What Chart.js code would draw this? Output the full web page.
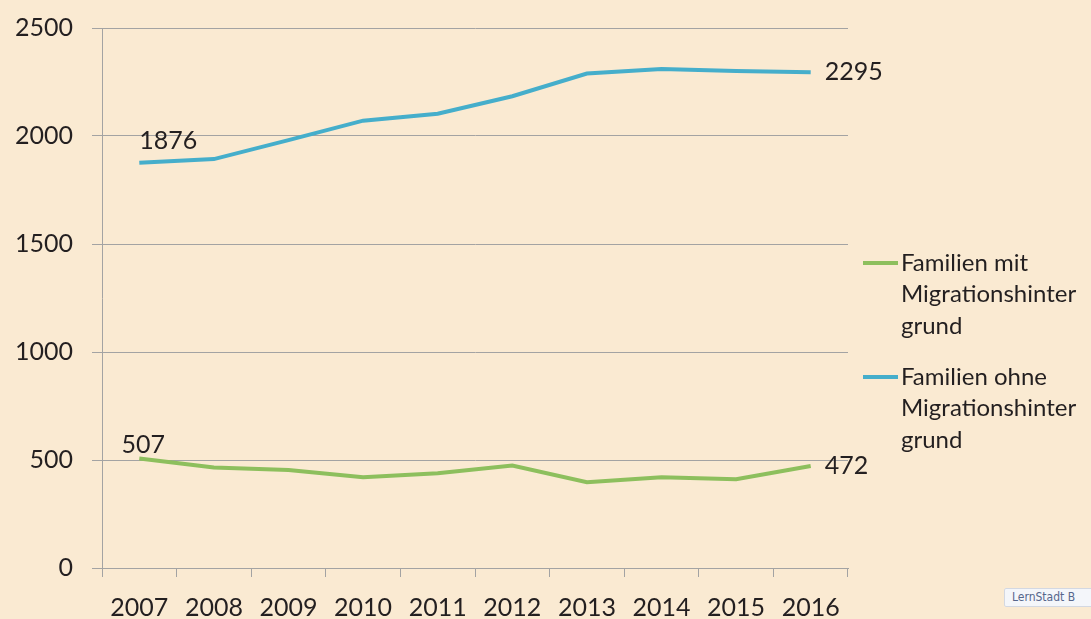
<!DOCTYPE html>
<html>
<head>
<meta charset="utf-8">
<script src="https://cdn.jsdelivr.net/npm/chart.js@4.4.0/dist/chart.umd.min.js"></script>
<style>
  body { margin: 0; background: #FAEAD2; }
  #wrap { position: relative; width: 1091px; height: 619px; overflow: hidden; }
  .badge {
    position: absolute; left: 1004px; top: 588px; width: 110px; height: 19px;
    background: #F4F6FA; border: 1px solid #D3D8E2; border-radius: 2px;
    font: 12px "DejaVu Sans Condensed", "DejaVu Sans", sans-serif; color: #56668C; line-height: 17px;
    padding-left: 7px; white-space: nowrap; box-sizing: border-box;
  }
</style>
</head>
<body>
<div id="wrap">
  <canvas id="familienChart" width="1091" height="619"></canvas>
  <div class="badge">LernStadt B</div>
</div>
<script>
var years = ["2007", "2008", "2009", "2010", "2011", "2012", "2013", "2014", "2015", "2016"];
var mitMigration = [507, 465, 454, 420, 439, 474, 397, 420, 411, 472];
var ohneMigration = [1876, 1893, 1981, 2071, 2103, 2184, 2289, 2310, 2301, 2295];
var yTicks = [0, 500, 1000, 1500, 2000, 2500];
var seriesNames = [
  ["Familien mit", "Migrationshinter", "grund"],
  ["Familien ohne", "Migrationshinter", "grund"]
];
var lineColors = ["#8DBF5D", "#45AECB"];

var gridColor = "#A3A3A3";
var textColor = "#231F20";
var fontFamily = "Lato, 'Open Sans', sans-serif";

// first/last value labels, like the excel original
var valueLabels = {
  id: "valueLabels",
  afterDatasetsDraw: function (chart) {
    var ctx = chart.ctx;
    ctx.save();
    ctx.font = "25px " + fontFamily;
    ctx.fillStyle = textColor;
    ctx.textBaseline = "middle";
    chart.data.datasets.forEach(function (ds, i) {
      var pts = chart.getDatasetMeta(i).data;
      var first = pts[0], last = pts[pts.length - 1];
      if (i === 0) {
        ctx.textAlign = "center";
        ctx.fillText(ds.data[0], first.x + 4, first.y - 14);
      } else {
        ctx.textAlign = "left";
        ctx.fillText(ds.data[0], first.x, first.y - 22);
      }
      ctx.textAlign = "left";
      ctx.fillText(ds.data[ds.data.length - 1], last.x + 14, last.y);
    });
    ctx.restore();
  }
};

// legend on the right with wrapped names
var sideLegend = {
  id: "sideLegend",
  afterDraw: function (chart) {
    var ctx = chart.ctx;
    ctx.save();
    ctx.font = "24px " + fontFamily;
    ctx.fillStyle = textColor;
    ctx.textAlign = "left";
    ctx.textBaseline = "middle";
    chart.data.datasets.forEach(function (ds, i) {
      var y = 263 + i * 114;
      ctx.strokeStyle = ds.borderColor;
      ctx.lineWidth = 4;
      ctx.beginPath();
      ctx.moveTo(863, y);
      ctx.lineTo(898, y);
      ctx.stroke();
      seriesNames[i].forEach(function (line, k) {
        ctx.fillText(line, 901, y + k * 31.5);
      });
    });
    ctx.restore();
  }
};

new Chart(document.getElementById("familienChart"), {
  type: "line",
  data: {
    labels: years,
    datasets: [
      {
        label: seriesNames[0].join(""),
        data: mitMigration,
        borderColor: lineColors[0],
        borderWidth: 4,
        pointRadius: 0,
        tension: 0
      },
      {
        label: seriesNames[1].join(""),
        data: ohneMigration,
        borderColor: lineColors[1],
        borderWidth: 4,
        pointRadius: 0,
        tension: 0
      }
    ]
  },
  options: {
    responsive: false,
    animation: false,
    layout: {
      padding: { left: 0, right: 243, top: 28, bottom: 0 }
    },
    plugins: {
      legend: { display: false },
      tooltip: { enabled: false }
    },
    scales: {
      x: {
        offset: true,
        grid: {
          offset: true,
          drawOnChartArea: false,
          drawTicks: true,
          tickLength: 9,
          color: gridColor
        },
        border: { color: gridColor, width: 1 },
        ticks: {
          color: textColor,
          font: { family: fontFamily, size: 25 },
          padding: 16,
          maxRotation: 0,
          autoSkip: false
        },
        afterFit: function (axis) {
          axis.height = 51;
          axis.paddingLeft = 0;
          axis.paddingRight = 0;
        }
      },
      y: {
        min: 0,
        max: 2500,
        afterBuildTicks: function (axis) {
          axis.ticks = yTicks.map(function (v) { return { value: v }; });
        },
        grid: {
          color: gridColor,
          tickLength: 10
        },
        border: { color: gridColor, width: 1 },
        ticks: {
          color: textColor,
          font: { family: fontFamily, size: 25 },
          padding: 19,
          callback: function (v) { return String(v); }
        },
        afterFit: function (axis) {
          axis.width = 102;
          axis.paddingTop = 0;
          axis.paddingBottom = 0;
        }
      }
    }
  },
  plugins: [valueLabels, sideLegend]
});
</script>
</body>
</html>
